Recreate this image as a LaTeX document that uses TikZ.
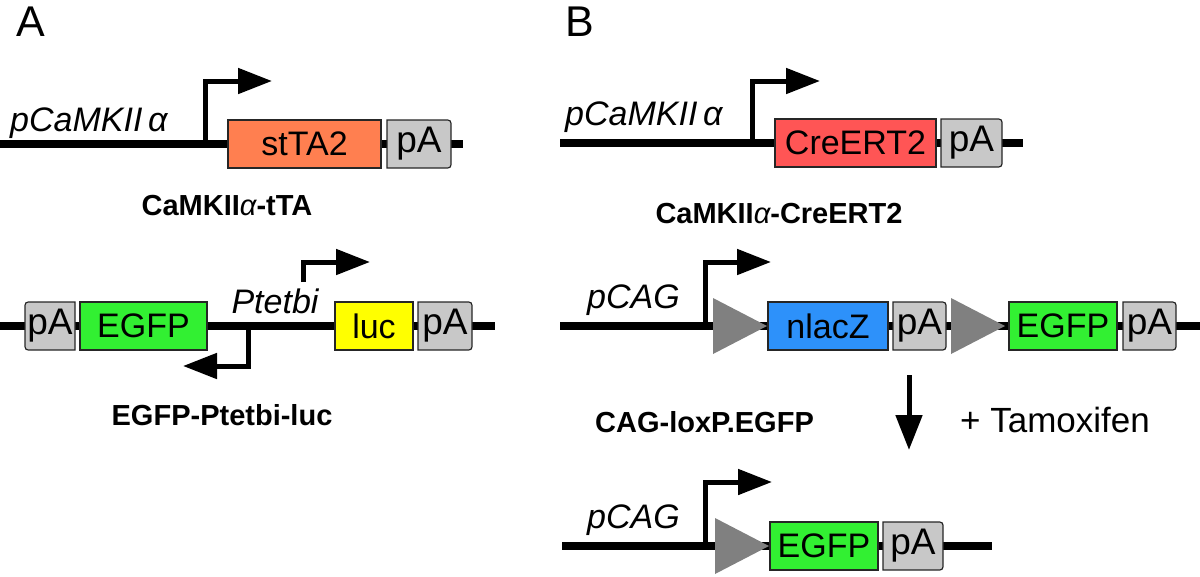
\documentclass[tikz,border=0pt]{standalone}
\usepackage{fontspec}
\setmainfont{Liberation Sans}
\usetikzlibrary{arrows.meta, calc}
\definecolor{sttacol}{RGB}{255,127,80}
\definecolor{crecol}{RGB}{255,85,85}
\definecolor{lacZcol}{RGB}{45,145,250}
\definecolor{egfpcol}{RGB}{50,240,50}
\definecolor{luccol}{RGB}{255,255,0}
\definecolor{pAcol}{RGB}{200,200,200}
\definecolor{loxcol}{RGB}{128,128,128}
\newcommand{\genefont}{\fontsize{34}{38}\selectfont}
\newcommand{\pAfont}{\fontsize{37}{40}\selectfont}
\newcommand{\namefont}{\fontsize{29}{34}\selectfont\bfseries}
% pA box: name, flat side x, rounded side x, backbone y
\newcommand{\pAbox}[4]{%
  \draw[pAshape] (#2,#4-24) -- ($(#3,#4-24)!7pt!(#2,#4-24)$)
    .. controls (#3,#4-24) .. (#3,#4-17) -- (#3,#4+17)
    .. controls (#3,#4+24) .. ($(#3,#4+24)!7pt!(#2,#4+24)$) -- (#2,#4+24) -- cycle;
  \node[font=\pAfont, inner sep=0pt] (#1) at ({(#2+#3)/2},#4) {pA};}
% loxP site: left x, backbone y
\newcommand{\loxP}[2]{%
  \fill[loxcol] (#1,#2-28) -- (#1+54,#2) -- (#1,#2+28) -- cycle;}

\begin{document}
\begin{tikzpicture}[x=1pt, y=-1pt, >={Triangle[length=34pt,width=25pt]},
    backbone/.style={line width=7.5pt},
    promoter/.style={->, line width=5pt, line join=miter},
    gene/.style={draw=black!85, line width=1.2pt, minimum height=48pt, inner sep=0pt, font=\genefont},
    pAshape/.style={draw=black!85, line width=1.2pt, fill=pAcol},
    promtext/.style={font=\genefont\itshape, inner sep=0pt, anchor=base west},
    nametext/.style={font=\namefont, inner sep=0pt, anchor=base},
    panel/.style={font=\fontsize{43}{50}\selectfont, inner sep=0pt}]
  \useasboundingbox (0,0) rectangle (1200,576);

  % Panel labels
  \node[panel] (labA) at (31,22) {A};
  \node[panel] (labB) at (580,22) {B};

  % CaMKIIa-tTA
  \draw[backbone] (0,144) -- (463,144);
  \draw[promoter] (205,144) -- (205,81) -- (272,81);
  \node[gene, fill=sttacol, minimum width=153pt] (stta) at (304.5,144) {stTA2};
  \pAbox{paA}{387}{451}{144}
  \node[promtext] (pcamA) at (10,131) {pCaMKII\,α};
  \node[nametext] (nameA) at (227,215) {CaMKII{\mdseries\itshape α}-tTA};

  % EGFP-Ptetbi-luc
  \draw[backbone] (0,326) -- (495,326);
  \draw[promoter] (303,282) -- (303,262) -- (370,262);
  \draw[promoter] (248,326) -- (248,366) -- (183,366);
  \pAbox{paL}{75}{25}{326}
  \node[gene, fill=egfpcol, minimum width=127pt] (egfpA) at (143.5,326) {EGFP};
  \node[gene, fill=luccol, minimum width=78pt] (luc) at (374,326) {luc};
  \pAbox{paR}{418}{472}{326}
  \node[promtext, anchor=base] (ptet) at (275,313) {Ptetbi};
  \node[nametext] (nameTet) at (222,425) {EGFP-Ptetbi-luc};

  % CaMKIIa-CreERT2
  \draw[backbone] (560,143) -- (1023,143);
  \draw[promoter] (752,143) -- (752,81) -- (820,81);
  \node[gene, fill=crecol, minimum width=161pt] (cre) at (855.5,143) {CreERT2};
  \pAbox{paB}{941}{1002}{143}
  \node[promtext] (pcamB) at (565,125) {pCaMKII\,α};
  \node[nametext] (nameB) at (779,223) {CaMKII{\mdseries\itshape α}-CreERT2};

  % CAG-loxP.EGFP
  \draw[backbone] (560,326) -- (1200,326);
  \draw[promoter] (705,326) -- (705,262) -- (771,262);
  \loxP{713}{326}
  \node[gene, fill=lacZcol, minimum width=120pt] (lacz) at (828,326) {nlacZ};
  \pAbox{paC}{893}{946}{326}
  \loxP{951}{326}
  \node[gene, fill=egfpcol, minimum width=108pt] (egfpB) at (1063,326) {EGFP};
  \pAbox{paD}{1123}{1176}{326}
  \node[promtext] (pcagB) at (587,308) {pCAG};
  \node[nametext, anchor=base west] (nameLox) at (595,432) {CAG-loxP.EGFP};

  % Tamoxifen step
  \coordinate (tamTop) at (909,375);
  \coordinate (tamTip) at (909,450);
  \draw[->, line width=5pt, >={Triangle[length=35pt,width=26pt]}] (tamTop) -- (tamTip);
  \node[font=\fontsize{35}{40}\selectfont, inner sep=0pt, anchor=base west] (tam) at (960,432) {+ Tamoxifen};

  % Recombined allele
  \draw[backbone] (562,546) -- (992,546);
  \draw[promoter] (705,546) -- (705,482) -- (772,482);
  \loxP{715}{546}
  \node[gene, fill=egfpcol, minimum width=108pt] (egfpC) at (824,546) {EGFP};
  \pAbox{paE}{883}{943}{546}
  \node[promtext] (pcagC) at (587,528) {pCAG};
\end{tikzpicture}
\end{document}
